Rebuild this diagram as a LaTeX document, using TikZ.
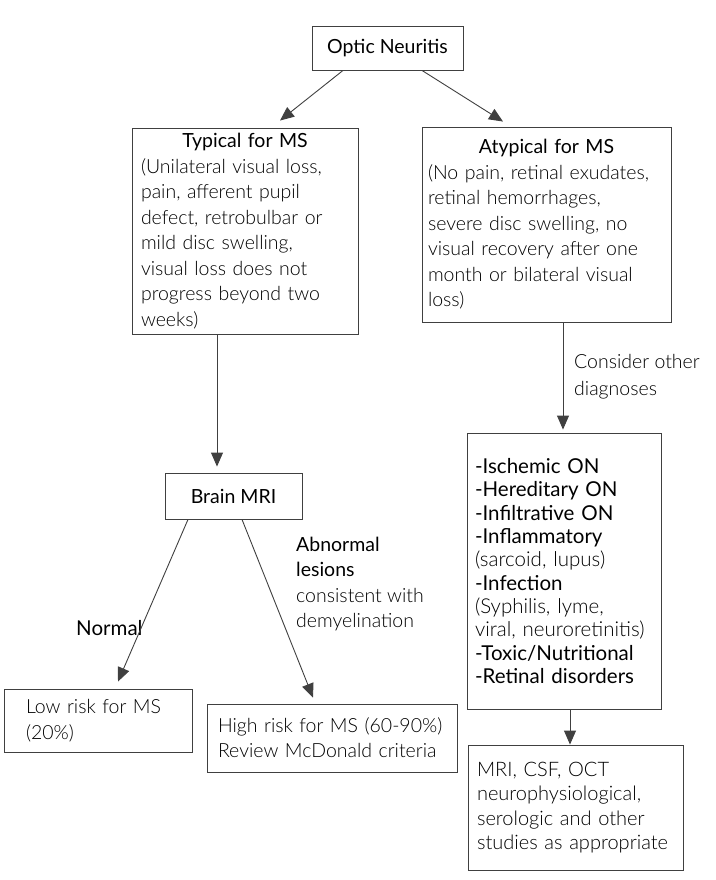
\documentclass[tikz,border=0pt]{standalone}
\usepackage{fontspec}
\setmainfont{Lato Light}[BoldFont={Lato}]
\usetikzlibrary{arrows.meta,calc}
\newcommand{\bodyfont}{\fontsize{19.5}{25.5}\selectfont}
\tikzset{
  box/.style={draw=black!75, line width=0.9pt, inner xsep=9pt, inner ysep=2pt, align=left},
  link/.style={draw=black!75, line width=0.9pt, -{Triangle[length=14pt,width=12pt]}},
  lbl/.style={inner sep=0pt, anchor=north west, align=left}
}
\begin{document}
\begin{tikzpicture}[x=1pt,y=-1pt,font=\bodyfont]
\useasboundingbox (0,0) rectangle (715,880);
% boxes
\node[box, align=center, minimum width=151, minimum height=44] (onb) at (387.5,48) {\textbf{Optic Neuritis}};
\node[box, text width=208, minimum height=206] (typ) at (245,231)
  {{\centering\textbf{Typical for MS}\par}(Unilateral visual loss,\\pain, afferent pupil\\defect, retrobulbar or\\mild disc swelling,\\visual loss does not\\progress beyond two\\weeks)};
\node[box, inner xsep=6pt, text width=237, minimum height=195] (atyp) at (546.5,224.5)
  {{\centering\textbf{Atypical for MS}\par}(No pain, retinal exudates,\\retinal hemorrhages,\\severe disc swelling, no\\visual recovery after one\\month or bilateral visual\\loss)};
\node[box, align=center, minimum width=137, minimum height=46] (mri) at (233.5,496) {\textbf{Brain MRI}};
\node[box, inner xsep=22pt, text width=144, minimum height=63] (low) at (98,720.5) {Low risk for MS\\(20\%)};
\node[box, inner xsep=11pt, text width=228, minimum height=68, font=\fontsize{19.5}{25}\selectfont] (high) at (332,738) {High risk for MS (60-90\%)\\Review McDonald criteria};
\node[box, inner xsep=8pt, text width=178, minimum height=276, font=\fontsize{20.5}{23.3}\selectfont] (diff) at (564,571)
  {\textbf{-Ischemic ON}\\\textbf{-Hereditary ON}\\\textbf{-Infiltrative ON}\\\textbf{-Inflammatory}\\(sarcoid, lupus)\\\textbf{-Infection}\\(Syphilis, lyme,\\viral, neuroretinitis)\\\textbf{-Toxic/Nutritional}\\\textbf{-Retinal disorders}};
\node[box, text width=197, minimum height=125, font=\fontsize{20}{24.3}\selectfont] (stud) at (575.5,807.5)
  {MRI, CSF, OCT\\neurophysiological,\\serologic and other\\studies as appropriate};
% labels
\node[lbl, font=\fontsize{19.5}{27}\selectfont] (cons) at (574,354) {Consider other\\diagnoses};
\node[inner sep=0pt, anchor=base west, font=\fontsize{20.5}{25}\selectfont] (norm) at (76,635) {\textbf{Normal}};
\node[lbl, font=\fontsize{19.5}{25.3}\selectfont] (abn) at (296,537) {\textbf{Abnormal}\\\textbf{lesions}\\consistent with\\demyelination};
% connectors
\draw[link] ($(onb.south)+(-44.5,0)$) -- ($(typ.north)+(35,-7)$);
\draw[link] ($(onb.south)+(34.5,0)$) -- ($(atyp.north)+(-43.5,-5)$);
\draw[link] ($(typ.south)+(-28,0)$) -- ($(mri.north)+(-16.5,-6)$);
\draw[link] ($(mri.south)+(-45.5,0)$) -- ($(low.north)+(20,-7)$);
\draw[link] ($(mri.south)+(8.5,0)$) -- ($(high.north)+(-19,-6)$);
\draw[link] ($(atyp.south)+(16.5,0)$) -- ($(diff.north)+(-1,-3)$);
\draw[link] ($(diff.south)+(6,0)$) -- ($(stud.north)+(-5.5,0)$);
\end{tikzpicture}
\end{document}
